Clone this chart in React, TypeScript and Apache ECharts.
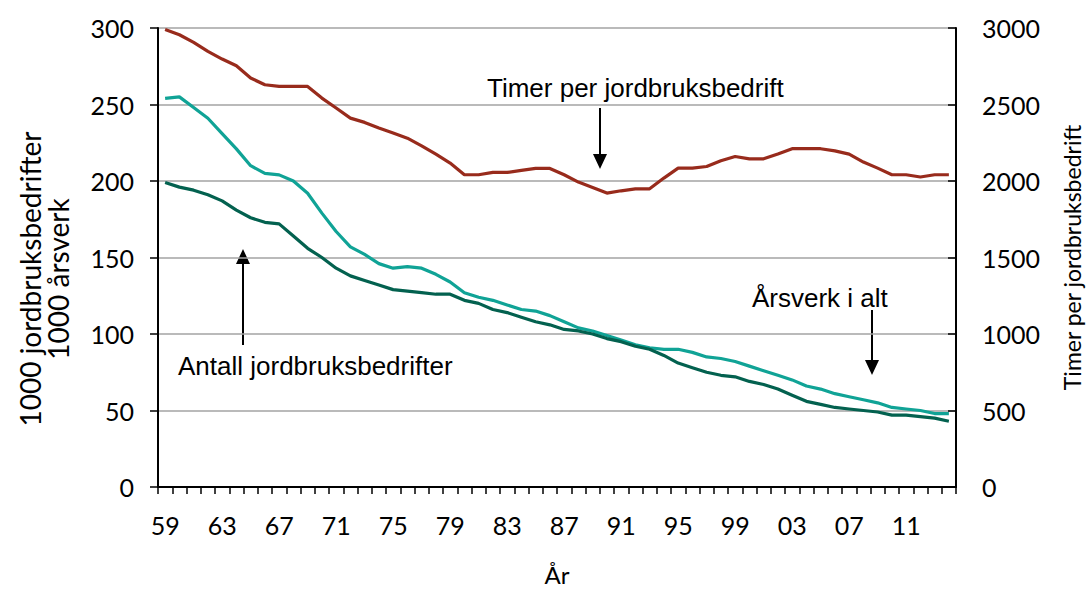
import React, { useEffect, useRef } from "react";
import * as echarts from "echarts";

const years: string[] = [];
for (let y = 1959; y <= 2014; y++) years.push(String(y % 100).padStart(2, "0"));

const timerPerBedrift = [
  2990, 2956, 2906, 2847, 2797, 2753, 2673, 2629, 2618, 2618,
  2618, 2542, 2477, 2411, 2383, 2346, 2313, 2280, 2230, 2175,
  2117, 2041, 2041, 2056, 2056, 2069, 2082, 2082, 2041, 1993,
  1958, 1921, 1936, 1949, 1949, 2019, 2084, 2084, 2095, 2132,
  2160, 2145, 2145, 2176, 2211, 2211, 2211, 2197, 2176, 2124,
  2084, 2041, 2041, 2026, 2041, 2041,
];

const arsverk = [
  254, 255, 248, 241, 231, 221, 210, 205, 204, 200,
  192, 179, 167, 157, 152, 146, 143, 144, 143, 139,
  134, 127, 124, 122, 119, 116, 115, 112, 108, 104,
  102, 99, 96, 93, 91, 90, 90, 88, 85, 84,
  82, 79, 76, 73, 70, 66, 64, 61, 59, 57,
  55, 52, 51, 50, 48, 48,
];

const antallBedrifter = [
  199, 196, 194, 191, 187, 181, 176, 173, 172, 164,
  156, 150, 143, 138, 135, 132, 129, 128, 127, 126,
  126, 122, 120, 116, 114, 111, 108, 106, 103, 102,
  100, 97, 95, 92, 90, 86, 81, 78, 75, 73,
  72, 69, 67, 64, 60, 56, 54, 52, 51, 50,
  49, 47, 47, 46, 45, 43,
];

const leftTicks = { min: 0, max: 300, interval: 50 };
const rightTicks = { min: 0, max: 3000, interval: 500 };

const RED = "#982b1c";
const TEAL = "#10a396";
const DARK = "#03614f";
const AXIS_FONT = "Lato";
const ANN_FONT = "Liberation Sans";

function arrow(x: number, y1: number, tip: number) {
  const dir = tip > y1 ? 1 : -1;
  const hh = 15;
  const hw = 7;
  return [
    {
      type: "line",
      shape: { x1: x, y1, x2: x, y2: tip - dir * hh },
      style: { stroke: "#000", lineWidth: 2 },
    },
    {
      type: "polygon",
      shape: {
        points: [
          [x - hw, tip - dir * hh],
          [x + hw, tip - dir * hh],
          [x, tip],
        ],
      },
      style: { fill: "#000" },
    },
  ];
}

export default function App() {
  const ref = useRef<HTMLDivElement>(null);
  useEffect(() => {
    if (!ref.current) return;
    const chart = echarts.init(ref.current, null, { renderer: "svg" });
    const annText = (text: string, x: number, y: number) => ({
      type: "text",
      x,
      y,
      style: {
        text,
        font: `26px "${ANN_FONT}"`,
        fill: "#000",
        textVerticalAlign: "middle",
      },
    });
    chart.setOption({
      animation: false,
      backgroundColor: "#fff",
      grid: {
        left: 158,
        right: 132,
        top: 28,
        bottom: 103,
        containLabel: false,
        outerBoundsMode: "none",
      },
      xAxis: {
        type: "category",
        data: years,
        boundaryGap: true,
        name: "År",
        nameLocation: "middle",
        nameGap: 75,
        nameTextStyle: { fontFamily: AXIS_FONT, fontSize: 24, color: "#000" },
        axisLine: { lineStyle: { color: "#000", width: 2 } },
        axisTick: { show: true, interval: 0, length: 7, lineStyle: { color: "#000", width: 1.5 } },
        axisLabel: {
          interval: 3,
          margin: 25,
          fontFamily: AXIS_FONT,
          fontSize: 25,
          color: "#000",
        },
        splitLine: { show: false },
      },
      yAxis: [
        {
          type: "value",
          position: "left",
          ...leftTicks,
          axisLine: { show: true, lineStyle: { color: "#000", width: 2 } },
          axisTick: { show: true, length: 8, lineStyle: { color: "#000", width: 1.5 } },
          axisLabel: { margin: 24, fontFamily: AXIS_FONT, fontSize: 25, color: "#000" },
          splitLine: { show: true, lineStyle: { color: "#a3a3a3", width: 1.5 } },
        },
        {
          type: "value",
          position: "right",
          ...rightTicks,
          name: "Timer per jordbruksbedrift",
          nameLocation: "middle",
          nameRotate: 90,
          nameGap: 104,
          nameTextStyle: { fontFamily: AXIS_FONT, fontSize: 23, color: "#000" },
          axisLine: { show: true, lineStyle: { color: "#000", width: 2 } },
          axisTick: { show: true, inside: true, length: 8, lineStyle: { color: "#000", width: 1.5 } },
          axisLabel: {
            margin: 26,
            fontFamily: AXIS_FONT,
            fontSize: 25,
            color: "#000",
            formatter: (v: number) => String(v),
          },
          splitLine: { show: false },
        },
      ],
      series: [
        {
          name: "Timer per jordbruksbedrift",
          type: "line",
          yAxisIndex: 1,
          data: timerPerBedrift,
          symbol: "none",
          lineStyle: { color: RED, width: 3.2 },
          itemStyle: { color: RED },
        },
        {
          name: "Årsverk i alt",
          type: "line",
          yAxisIndex: 0,
          data: arsverk,
          symbol: "none",
          lineStyle: { color: TEAL, width: 3.2 },
          itemStyle: { color: TEAL },
        },
        {
          name: "Antall jordbruksbedrifter",
          type: "line",
          yAxisIndex: 0,
          data: antallBedrifter,
          symbol: "none",
          lineStyle: { color: DARK, width: 3.2 },
          itemStyle: { color: DARK },
        },
      ],
      graphic: [
        {
          type: "text",
          x: 44,
          y: 279,
          rotation: Math.PI / 2,
          style: {
            text: "1000 jordbruksbedrifter\n1000 årsverk",
            font: `28px "${AXIS_FONT}"`,
            lineHeight: 28,
            fill: "#000",
            textAlign: "center",
            textVerticalAlign: "middle",
          },
        },
        annText("Timer per jordbruksbedrift", 487, 88),
        ...arrow(600, 108, 169),
        annText("Antall jordbruksbedrifter", 178, 366),
        ...arrow(243, 345, 249),
        annText("Årsverk i alt", 752, 298),
        ...arrow(872, 310, 375),
      ],
    });
    return () => chart.dispose();
  }, []);
  return (
    <div
      ref={ref}
      style={{ position: "fixed", left: 0, top: 0, width: 1088, height: 590, background: "#fff" }}
    />
  );
}
